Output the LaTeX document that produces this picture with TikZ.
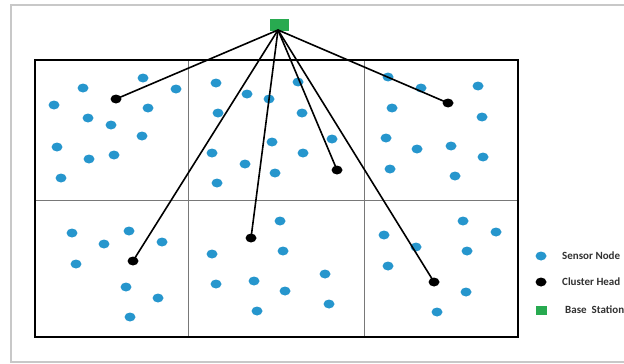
\documentclass[tikz,border=0pt]{standalone}
\usepackage{fontspec}
\setmainfont{Carlito}
\usetikzlibrary{shapes.geometric}
\definecolor{sensorblue}{RGB}{38,150,205}
\definecolor{bsgreen}{RGB}{40,170,80}
\definecolor{framegrey}{RGB}{200,200,200}
\definecolor{gridgrey}{RGB}{120,120,120}
\definecolor{legtext}{RGB}{50,50,50}
\tikzset{
  sensor/.style={ellipse,fill=sensorblue,minimum width=11pt,minimum height=9pt,inner sep=0pt},
  chead/.style={ellipse,fill=black,minimum width=11pt,minimum height=9pt,inner sep=0pt},
  bstation/.style={rectangle,fill=bsgreen,minimum width=19pt,minimum height=12pt,inner sep=0pt},
  legsq/.style={rectangle,fill=bsgreen,minimum width=11pt,minimum height=9pt,inner sep=0pt},
  link/.style={line width=1.6pt,black},
  legend/.style={anchor=west,font=\bfseries\fontsize{11}{12}\selectfont,text=legtext,inner sep=0pt}
}
\begin{document}
\begin{tikzpicture}[x=1pt,y=-1pt]
\useasboundingbox (0,0) rectangle (624,364);
\fill[white] (0,0) rectangle (624,364);
% outer frame
\draw[framegrey,line width=2pt] (624,5) -- (11,5) -- (11,362) -- (624,362);
% grid
\draw[gridgrey,line width=0.8pt] (35,200) -- (518,200);
\draw[gridgrey,line width=0.8pt] (188,60) -- (188,337);
\draw[gridgrey,line width=0.8pt] (364,60) -- (364,337);
\draw[black,line width=1.6pt] (35,60) rectangle (518,337);
% sensor nodes
\foreach \p [count=\i] in {
 (143,78),(83,88),(176,89),(54,105),(148,108),(88,118),(111,125),(142,136),(57,147),(89,159),(114,155),(61,178),
 (216,83),(247,94),(269,99),(298,82),(218,113),(302,113),(272,142),(212,153),(245,164),(303,153),(275,173),(217,183),(332,139),
 (388,77),(421,88),(478,86),(392,108),(482,117),(386,138),(417,149),(451,146),(483,157),(390,169),(455,176),
 (72,233),(104,244),(129,231),(162,242),(76,264),(126,287),(158,298),(130,317),
 (280,221),(283,251),(212,254),(216,284),(254,281),(285,291),(257,311),(325,274),(329,304),
 (463,221),(496,232),(384,235),(467,251),(416,247),(388,266),(466,292),(437,312)}
  \node[sensor] (s\i) at \p {};
% base station
\node[bstation] (bs) at (279,25) {};
\coordinate (bsout) at (278,30);
% cluster heads
\node[chead] (ch1) at (116,99) {};
\node[chead] (ch2) at (448,103) {};
\node[chead] (ch3) at (337,170) {};
\node[chead] (ch4) at (133,261) {};
\node[chead] (ch5) at (251,238) {};
\node[chead] (ch6) at (434,282) {};
% links
\foreach \c in {ch1,ch2,ch3,ch4,ch5,ch6}
  \draw[link] (bsout) -- (\c.center);
% legend
\node[sensor] (lsen) at (541,256) {};
\node[chead] (lch) at (541,282) {};
\node[legsq] (lbs) at (541,310) {};
\node[legend] (tsen) at (562,256) {Sensor Node};
\node[legend] (tch) at (562,282) {Cluster Head};
\node[legend] (tbs) at (565,310) {Base\ \ Station};
\end{tikzpicture}
\end{document}
